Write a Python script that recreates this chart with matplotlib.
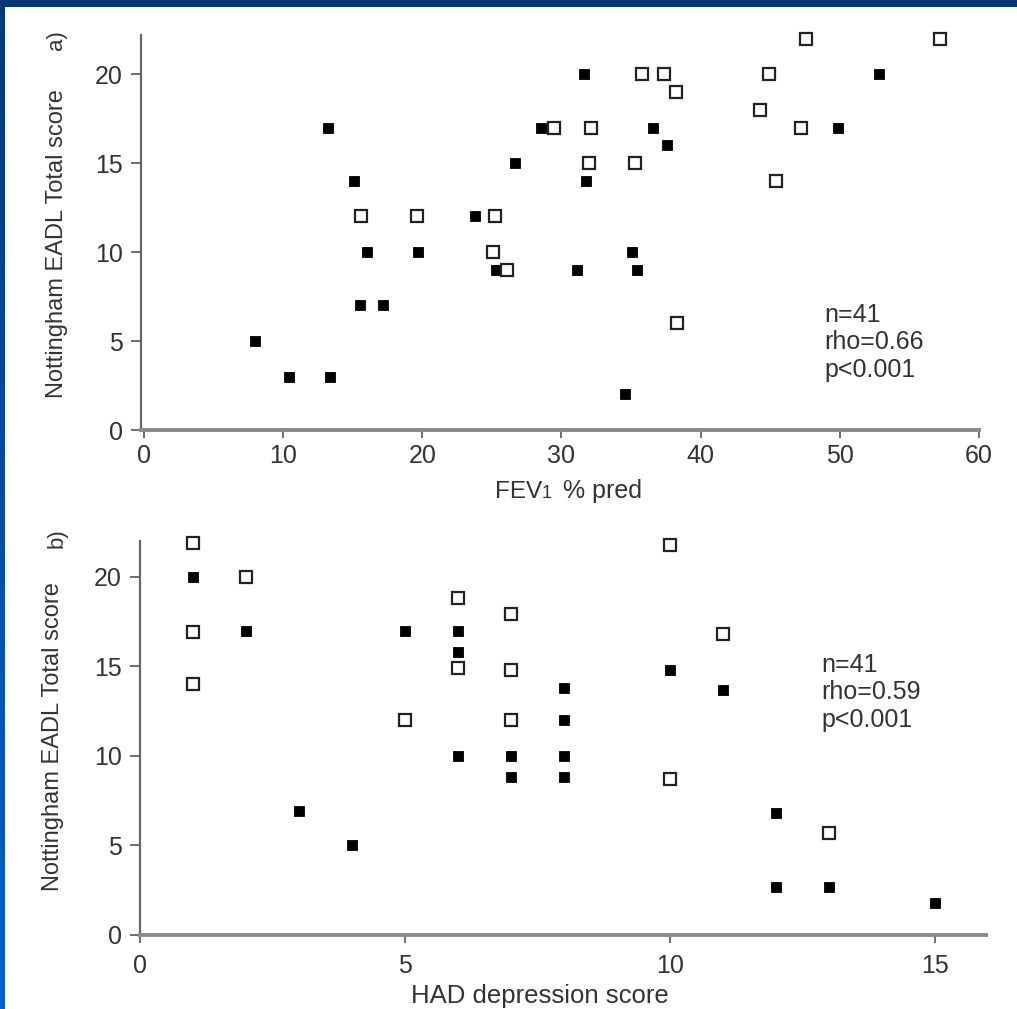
import numpy as np
import matplotlib
matplotlib.use("Agg")
import matplotlib.pyplot as plt

plt.rcParams['font.family'] = ['Liberation Sans', 'DejaVu Sans']

# panel a: FEV1 % pred vs EADL score
fev_filled = [13.2, 28.5, 26.7, 15.1, 23.8, 16.0, 19.7, 25.3, 15.5, 17.2, 8.0, 10.4, 13.4,
              31.6, 52.8, 36.6, 49.9, 37.6, 31.8, 35.1, 31.1, 35.4, 34.6]
eadl_a_filled = [17, 17, 15, 14, 12, 10, 10, 9, 7, 7, 5, 3, 3,
                 20, 20, 17, 17, 16, 14, 10, 9, 9, 2]
fev_open = [29.5, 15.6, 19.6, 25.2, 25.1, 26.1, 47.6, 57.2, 35.8, 37.4, 44.9, 38.2, 44.3,
            32.1, 47.2, 32.0, 35.3, 45.4, 38.3]
eadl_a_open = [17, 12, 12, 12, 10, 9, 22, 22, 20, 20, 20, 19, 18,
               17, 17, 15, 15, 14, 6]

# panel b: HAD depression score vs EADL score
had_filled = [1, 2, 5, 6, 6, 8, 8, 6, 7, 8, 7, 8, 3, 4, 10, 11, 12, 12, 13, 15]
eadl_b_filled = [20, 17, 17, 17, 15.8, 13.8, 12, 10, 10, 10, 8.8, 8.8, 6.9, 5,
                 14.8, 13.7, 6.8, 2.7, 2.7, 1.8]
had_open = [1, 2, 1, 1, 6, 7, 6, 7, 5, 7, 10, 11, 10, 13]
eadl_b_open = [21.9, 20, 16.9, 14, 18.8, 17.9, 14.9, 14.8, 12, 12, 21.8, 16.8, 8.7, 5.7]

stats_a = "n=41\nrho=0.66\np<0.001"
stats_b = "n=41\nrho=0.59\np<0.001"

W, H = 1017, 1009
fig = plt.figure(figsize=(W / 100, H / 100), dpi=100)
fig.patch.set_facecolor('white')

# blue frame (top band + left gradient strip)
top = fig.add_axes([0, 1 - 7 / H, 1, 7 / H])
top.set_axis_off()
top.add_patch(plt.Rectangle((0, 0), 1, 1, color='#003876', transform=top.transAxes))
left = fig.add_axes([0, 0, 5 / W, 1 - 7 / H])
grad = np.linspace(0, 1, 256).reshape(-1, 1)
cmap = matplotlib.colors.LinearSegmentedColormap.from_list('frame', ['#0062cc', '#003a78'])
left.imshow(grad, aspect='auto', cmap=cmap, origin='lower')
left.set_axis_off()

txt = '#333333'


def style(ax):
    for s in ['top', 'right']:
        ax.spines[s].set_visible(False)
    ax.spines['left'].set_color('#666666')
    ax.spines['left'].set_linewidth(1.6)
    ax.spines['bottom'].set_color('#8a8a8a')
    ax.spines['bottom'].set_linewidth(2.8)
    ax.tick_params(axis='x', direction='out', length=6, width=1.2, color='#555555',
                   labelsize=18, labelcolor=txt, pad=4)
    ax.tick_params(axis='y', direction='out', length=7, width=1.2, color='#555555',
                   labelsize=18, labelcolor=txt, pad=6)


def points(ax, xf, yf, xo, yo):
    ax.plot(xf, yf, 's', ms=7.8, color='black', mec='black', mew=0.6, clip_on=False, zorder=3)
    ax.plot(xo, yo, 's', ms=8, mfc='white', mec='#222222', mew=1.6, clip_on=False, zorder=3)


ax_a = fig.add_axes([141 / W, 1 - 430 / H, 838 / W, 395 / H])
points(ax_a, fev_filled, eadl_a_filled, fev_open, eadl_a_open)
ax_a.set_xlim(-0.2, 60)
ax_a.set_ylim(0, 22.2)
ax_a.set_xticks(range(0, 61, 10))
ax_a.set_yticks(range(0, 21, 5))
style(ax_a)
ax_a.text(48.9, 7.16, stats_a, va='top', ha='left', fontsize=18, color=txt, linespacing=1.2)

ax_b = fig.add_axes([140 / W, 1 - 935 / H, 846 / W, 394 / H])
points(ax_b, had_filled, eadl_b_filled, had_open, eadl_b_open)
ax_b.set_xlim(0, 15.96)
ax_b.set_ylim(0, 22)
ax_b.set_xticks([0, 5, 10, 15])
ax_b.set_yticks(range(0, 21, 5))
style(ax_b)
ax_b.tick_params(axis='x', pad=8)
ax_b.text(12.86, 15.77, stats_b, va='top', ha='left', fontsize=18, color=txt, linespacing=1.2)

# labels
fig.text(57 / W, 1 - 244 / H, "Nottingham EADL Total score", rotation=90,
         ha='center', va='center', fontsize=17, color=txt)
fig.text(57 / W, 1 - 40 / H, "a)", rotation=90, ha='center', va='center', fontsize=16, color=txt)
fig.text(53 / W, 1 - 737 / H, "Nottingham EADL Total score", rotation=90,
         ha='center', va='center', fontsize=17, color=txt)
fig.text(57 / W, 1 - 538 / H, "b)", rotation=90, ha='center', va='center', fontsize=16, color=txt)

# FEV1 label: small "1" on the baseline, as in the original
fig.text(495 / W, 1 - 498 / H, "FEV", ha='left', va='baseline', fontsize=17.5, color=txt)
fig.text(542 / W, 1 - 498 / H, "1", ha='left', va='baseline', fontsize=13, color=txt)
fig.text(563 / W, 1 - 498 / H, "% pred", ha='left', va='baseline', fontsize=18, color=txt)
fig.text(540 / W, 1 - 996 / H, "HAD depression score", ha='center', va='center',
         fontsize=18.5, color=txt)

fig.savefig("out.png", dpi=100, facecolor='white')
